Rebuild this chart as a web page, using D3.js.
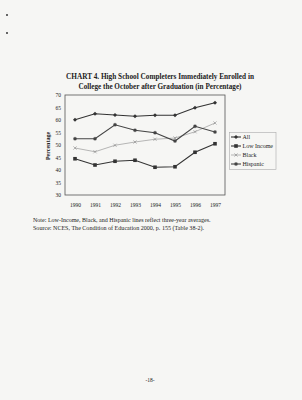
<!DOCTYPE html>
<html><head><meta charset="utf-8">
<script src="https://cdn.jsdelivr.net/npm/d3@7/dist/d3.min.js"></script>
<style>
html,body{margin:0;padding:0;background:#f6f6f4;}
svg{display:block;}
text{font-family:"Liberation Serif","DejaVu Serif",serif;fill:#222;}
</style></head>
<body>
<svg id="c" width="302" height="400"></svg>
<script>
const years = ["1990","1991","1992","1993","1994","1995","1996","1997"];
const allVals = [60.1, 62.5, 62.0, 61.5, 61.9, 61.9, 64.9, 66.9];
const lowIncome = [44.5, 42.0, 43.5, 43.9, 41.1, 41.3, 47.1, 50.5];
const black = [48.8, 47.3, 49.9, 51.2, 52.3, 52.8, 55.3, 58.8];
const hispanic = [52.5, 52.5, 58.1, 55.9, 54.9, 51.6, 57.5, 55.2];
const yTicks = [30, 35, 40, 45, 50, 55, 60, 65, 70];
const seriesNames = ["All", "Low Income", "Black", "Hispanic"];
const titleLines = ["CHART 4.  High School Completers Immediately Enrolled in",
                    "College the October after Graduation (in Percentage)"];
const noteLines = ["Note: Low-Income, Black, and Hispanic lines reflect three-year averages.",
                   "Source: NCES, The Condition of Education 2000, p. 155 (Table 38-2)."];

const series = [
  {name: seriesNames[0], values: allVals, color:"#333", width:1.1, marker:"diamond"},
  {name: seriesNames[1], values: lowIncome, color:"#333", width:1.1, marker:"square"},
  {name: seriesNames[2], values: black, color:"#999", width:0.7, marker:"cross"},
  {name: seriesNames[3], values: hispanic, color:"#444", width:1.1, marker:"star"}
];

const svg = d3.select("#c");
const L = 65, R = 225, T = 95, B = 195;

const x = d3.scalePoint().domain(years).range([L, R]).padding(0.5);
const y = d3.scaleLinear().domain([30, 70]).range([B, T]);

// scan specks
svg.append("rect").attr("x",6).attr("y",14).attr("width",2).attr("height",2).attr("fill","#666");
svg.append("rect").attr("x",6).attr("y",32).attr("width",2).attr("height",2).attr("fill","#666");

// title
svg.selectAll("text.title").data(titleLines).join("text")
  .attr("class","title")
  .attr("x",160).attr("y",(d,i)=>79 + i*10)
  .attr("text-anchor","middle")
  .attr("font-size",8)
  .attr("font-weight","bold")
  .attr("textLength",(d,i)=> i===0 ? 188 : 163)
  .attr("lengthAdjust","spacingAndGlyphs")
  .text(d=>d);

// frame
svg.append("rect").attr("x",L).attr("y",T).attr("width",R-L).attr("height",B-T)
  .attr("fill","none").attr("stroke","#555").attr("stroke-width",0.8);

// y axis
const yAxis = d3.axisLeft(y).tickValues(yTicks).tickSize(0).tickPadding(4);
const gy = svg.append("g").attr("transform",`translate(${L},0)`).call(yAxis);
gy.select(".domain").remove();
gy.selectAll("text").attr("font-size",5.5).attr("font-family","Liberation Serif").attr("fill","#333");

// x axis
const xAxis = d3.axisBottom(x).tickSize(0).tickPadding(8);
const gx = svg.append("g").attr("transform",`translate(0,${B})`).call(xAxis);
gx.select(".domain").remove();
gx.selectAll("text").attr("font-size",5.5).attr("font-family","Liberation Serif").attr("fill","#333");

// y label
svg.append("text").attr("transform","translate(50,146) rotate(-90)")
  .attr("text-anchor","middle").attr("font-size",6).attr("font-weight","bold").text("Percentage");

function drawMarker(g, type, cx, cy, color){
  if(type==="diamond"){
    g.append("path").attr("d",`M${cx},${cy-2}L${cx+2},${cy}L${cx},${cy+2}L${cx-2},${cy}Z`).attr("fill",color);
  } else if(type==="square"){
    g.append("rect").attr("x",cx-1.8).attr("y",cy-1.8).attr("width",3.6).attr("height",3.6).attr("fill",color);
  } else if(type==="cross"){
    g.append("path").attr("d",`M${cx-1.6},${cy-1.6}L${cx+1.6},${cy+1.6}M${cx-1.6},${cy+1.6}L${cx+1.6},${cy-1.6}`)
      .attr("stroke",color).attr("stroke-width",0.6);
  } else if(type==="star"){
    g.append("rect").attr("x",cx-1.4).attr("y",cy-1.4).attr("width",2.8).attr("height",2.8).attr("fill",color);
    g.append("path").attr("d",`M${cx-2},${cy}L${cx+2},${cy}M${cx},${cy-2}L${cx},${cy+2}`)
      .attr("stroke",color).attr("stroke-width",0.5);
  }
}

const line = d3.line().x((d,i)=>x(years[i])).y(d=>y(d));
series.forEach(s=>{
  const g = svg.append("g");
  g.append("path").datum(s.values).attr("d",line)
    .attr("fill","none").attr("stroke",s.color).attr("stroke-width",s.width);
  s.values.forEach((v,i)=>drawMarker(g, s.marker, x(years[i]), y(v), s.marker==="cross"?"#888":s.color));
});

// legend
const lg = svg.append("g");
lg.append("rect").attr("x",229.5).attr("y",132.5).attr("width",46.5).attr("height",37)
  .attr("fill","none").attr("stroke","#aaa").attr("stroke-width",0.6);
series.forEach((s,i)=>{
  const yy = 137 + i*9;
  lg.append("line").attr("x1",231).attr("x2",241).attr("y1",yy).attr("y2",yy)
    .attr("stroke",s.color).attr("stroke-width",s.width);
  drawMarker(lg, s.marker, 236, yy, s.marker==="cross"?"#888":s.color);
  lg.append("text").attr("x",242.5).attr("y",yy+2).attr("font-size",6).text(s.name);
});

// notes
svg.selectAll("text.note").data(noteLines).join("text")
  .attr("class","note").attr("x",33).attr("y",(d,i)=>222 + i*7.8)
  .attr("font-size",5.8)
  .attr("textLength",(d,i)=> i===0 ? 177.5 : 171)
  .attr("lengthAdjust","spacingAndGlyphs")
  .text(d=>d);

// page number
svg.append("text").attr("x",150).attr("y",382).attr("text-anchor","middle")
  .attr("font-size",5.5).text("-18-");
</script>
</body></html>
